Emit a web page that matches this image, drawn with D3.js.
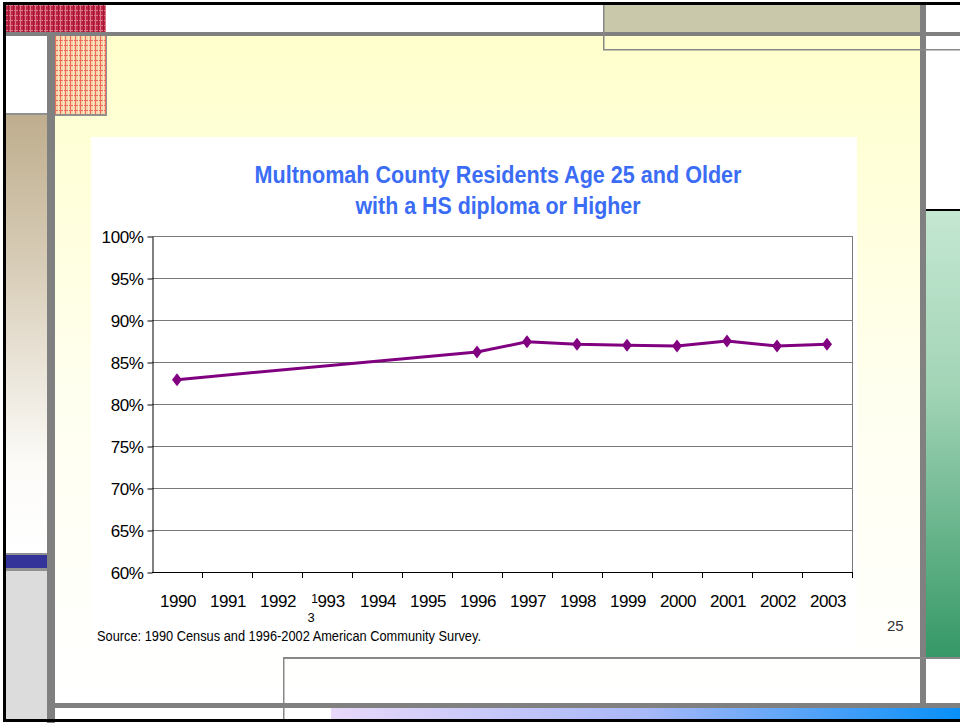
<!DOCTYPE html>
<html>
<head>
<meta charset="utf-8">
<script src="https://cdn.jsdelivr.net/npm/d3@7"></script>
<style>
body { margin: 0; background: #ffffff; }
svg text { font-family: "Liberation Sans", Arial, sans-serif; }
</style>
</head>
<body>
<div id="Slide"></div>
<script>
// chart values
var Years = ["1990","1991","1992","1993","1994","1995","1996","1997","1998","1999","2000","2001","2002","2003"];
var Shares = [0.829, null, null, null, null, null, 0.862, 0.874, 0.871, 0.870, 0.869, 0.875, 0.869, 0.871];
var YTicks = [0.60, 0.65, 0.70, 0.75, 0.80, 0.85, 0.90, 0.95, 1.00];
var TitleLines = ["Multnomah County Residents Age 25 and Older", "with a HS diploma or Higher"];
var SourceNote = "Source: 1990 Census and 1996-2002 American Community Survey.";
var SlideNumber = "25";
var StrayMark = "3";

var Width = 960, Height = 723;
var svg = d3.select("#Slide").append("svg")
	.attr("width", Width)
	.attr("height", Height);

var defs = svg.append("defs");

// gradients used by the slide template
function AddGradient(id, x2, y2, stops)
{
	var g = defs.append("linearGradient").attr("id", id)
		.attr("x1", 0).attr("y1", 0).attr("x2", x2).attr("y2", y2);
	stops.forEach(function(s){
		g.append("stop").attr("offset", s[0]).attr("stop-color", s[1]);
	});
}
AddGradient("YellowFade", 0, 1, [[0, "#ffffcc"], [0.55, "#fffff0"], [1, "#ffffff"]]);
AddGradient("TanFade", 0, 1, [[0, "#bfae8e"], [0.35, "#d8cdb8"], [0.8, "#fcfbf8"], [1, "#ffffff"]]);
AddGradient("GreenFade", 0, 1, [[0, "#c4e7d2"], [0.4, "#a2d4b6"], [1, "#359866"]]);
AddGradient("BlueFade", 1, 0, [[0, "#e8d8fa"], [0.5, "#a8b8f8"], [1, "#0890f8"]]);

// plaid patterns
var RedPlaid = defs.append("pattern").attr("id", "RedPlaid")
	.attr("width", 5).attr("height", 5).attr("patternUnits", "userSpaceOnUse");
RedPlaid.append("rect").attr("width", 5).attr("height", 5).attr("fill", "#c02444");
RedPlaid.append("rect").attr("width", 1).attr("height", 5).attr("fill", "#d87888");
RedPlaid.append("rect").attr("width", 5).attr("height", 1).attr("fill", "#d87888");
RedPlaid.append("rect").attr("x", 3).attr("width", 1).attr("height", 5).attr("fill", "#a01a36");

var LightPlaid = defs.append("pattern").attr("id", "LightPlaid")
	.attr("width", 5).attr("height", 5).attr("patternUnits", "userSpaceOnUse");
LightPlaid.append("rect").attr("width", 5).attr("height", 5).attr("fill", "#f6d2a4");
LightPlaid.append("rect").attr("width", 1).attr("height", 5).attr("fill", "#ec6c60");
LightPlaid.append("rect").attr("width", 5).attr("height", 1).attr("fill", "#ec6c60");
LightPlaid.append("rect").attr("x", 3).attr("width", 1).attr("height", 5).attr("fill", "#fae6c4");

function Box(x, y, w, h, fill)
{
	return svg.append("rect").attr("x", x).attr("y", y).attr("width", w).attr("height", h).attr("fill", fill);
}

// slide template
Box(55, 36, 865, 667, "url(#YellowFade)");
Box(5, 5, 101, 27, "url(#RedPlaid)");
Box(603, 5, 317, 27, "#c9c8aa");
Box(5, 32, 955, 4, "#808080");
Box(47, 36, 8, 687, "#808080");
Box(5, 113, 42, 2, "#909090");
Box(5, 115, 42, 438, "url(#TanFade)");
Box(5, 553, 42, 2, "#909090");
Box(5, 555, 42, 13, "#333399");
Box(5, 568, 42, 3, "#909090");
Box(5, 571, 42, 149, "#dcdcdc");
Box(55, 36, 52, 80, "#909090");
Box(55, 36, 51, 78, "url(#LightPlaid)");
Box(926, 209, 34, 2, "#000000");
Box(926, 211, 34, 446, "url(#GreenFade)");
Box(920, 4, 6, 704, "#808080");
Box(603, 5, 1.5, 45, "#888888");
Box(603, 49, 357, 1.5, "#888888");
Box(283, 657, 677, 2, "#888888");
Box(283, 657, 1.5, 63, "#888888");
Box(55, 703, 905, 5, "#808080");
Box(331, 708, 629, 11, "url(#BlueFade)");
Box(3, 2, 957, 3, "#000000");
Box(3, 2, 3, 720, "#000000");
Box(3, 719, 957, 3, "#000000");

// chart area
Box(91, 137, 766, 513, "#ffffff");

var Plot = { left: 152, right: 852, top: 236, bottom: 572 };

var x = d3.scaleBand()
	.domain(Years)
	.range([Plot.left, Plot.right])
	.padding(0);

var y = d3.scaleLinear()
	.domain([0.6, 1.0])
	.range([Plot.bottom, Plot.top]);

// gridlines
svg.append("g").selectAll("line")
	.data(YTicks.filter(function(d){ return d > 0.6; }))
	.enter().append("line")
	.attr("x1", Plot.left).attr("x2", Plot.right)
	.attr("y1", function(d){ return Math.round(y(d)) + 0.5; })
	.attr("y2", function(d){ return Math.round(y(d)) + 0.5; })
	.attr("stroke", "#7a7a7a")
	.attr("stroke-width", 1);

svg.append("line")
	.attr("x1", Plot.right + 0.5).attr("x2", Plot.right + 0.5)
	.attr("y1", Plot.top).attr("y2", Plot.bottom)
	.attr("stroke", "#7a7a7a");

// y axis
var YAxis = svg.append("g")
	.attr("transform", "translate(" + (Plot.left + 0.5) + ",0.5)")
	.call(d3.axisLeft(y).tickValues(YTicks).tickSize(5).tickSizeOuter(0).tickPadding(4).tickFormat(d3.format(".0%")));
YAxis.select(".domain").attr("stroke", "#000");
YAxis.selectAll(".tick line").attr("stroke", "#000");
YAxis.selectAll("text")
	.attr("fill", "#000")
	.style("font-size", "17px")
	.attr("letter-spacing", "-0.4px")
	.attr("dy", "0.36em");

// x axis, ticks at category boundaries
var XAxis = svg.append("g");
XAxis.append("line")
	.attr("x1", Plot.left).attr("x2", Plot.right + 1)
	.attr("y1", Plot.bottom + 0.5).attr("y2", Plot.bottom + 0.5)
	.attr("stroke", "#000");
XAxis.selectAll(".xtick")
	.data(Years.slice(1).concat(["end"]))
	.enter().append("line")
	.attr("class", "xtick")
	.attr("x1", function(d){ return (d === "end" ? Plot.right : x(d)) + 0.5; })
	.attr("x2", function(d){ return (d === "end" ? Plot.right : x(d)) + 0.5; })
	.attr("y1", Plot.bottom).attr("y2", Plot.bottom + 6)
	.attr("stroke", "#000");

var XLabels = XAxis.selectAll(".xlabel")
	.data(Years)
	.enter().append("text")
	.attr("class", "xlabel")
	.attr("x", function(d){ return x(d) + x.bandwidth() / 2 + 1; })
	.attr("y", 607)
	.attr("text-anchor", "middle")
	.style("font-size", "17px")
	.attr("letter-spacing", "-0.4px")
	.attr("fill", "#000");

// on the slide the "1" of 1993 is half hidden by a stray placeholder, so it shows small and raised
XLabels.each(function(d){
	var t = d3.select(this);
	if (d === "1993")
	{
		t.append("tspan").style("font-size", "12px").attr("dy", "-4").text(d.charAt(0));
		t.append("tspan").attr("dy", "4").text(d.slice(1));
	}
	else
	{
		t.text(d);
	}
});

svg.append("text")
	.attr("x", x("1993") + x.bandwidth() / 2 - 16)
	.attr("y", 622)
	.attr("text-anchor", "middle")
	.style("font-size", "13px")
	.attr("fill", "#000")
	.text(StrayMark);

// series
var Points = Years.map(function(d, i){ return { year: d, value: Shares[i] }; })
	.filter(function(d){ return d.value !== null; });

var Line = d3.line()
	.x(function(d){ return x(d.year) + x.bandwidth() / 2; })
	.y(function(d){ return y(d.value); });

svg.append("path")
	.datum(Points)
	.attr("d", Line)
	.attr("fill", "none")
	.attr("stroke", "#800080")
	.attr("stroke-width", 3)
	.attr("stroke-linejoin", "round");

svg.append("g").selectAll("path")
	.data(Points)
	.enter().append("path")
	.attr("transform", function(d){
		return "translate(" + (x(d.year) + x.bandwidth() / 2) + "," + y(d.value) + ")";
	})
	.attr("d", "M0,-6.5L5,0L0,6.5L-5,0Z")
	.attr("fill", "#800080");

// title
svg.append("g").selectAll("text")
	.data(TitleLines)
	.enter().append("text")
	.attr("x", 498)
	.attr("y", function(d, i){ return 183 + i * 31; })
	.attr("text-anchor", "middle")
	.attr("textLength", function(d, i){ return i === 0 ? 487 : 285; })
	.attr("lengthAdjust", "spacingAndGlyphs")
	.style("font-size", "24px")
	.style("font-weight", "bold")
	.attr("fill", "#3a6cf5")
	.text(function(d){ return d; });

// source and slide number
svg.append("text")
	.attr("x", 97).attr("y", 641)
	.attr("textLength", 384)
	.attr("lengthAdjust", "spacingAndGlyphs")
	.style("font-size", "14px")
	.attr("fill", "#000")
	.text(SourceNote);

svg.append("text")
	.attr("x", 887).attr("y", 631)
	.style("font-size", "15px")
	.attr("fill", "#333")
	.text(SlideNumber);
</script>
</body>
</html>
